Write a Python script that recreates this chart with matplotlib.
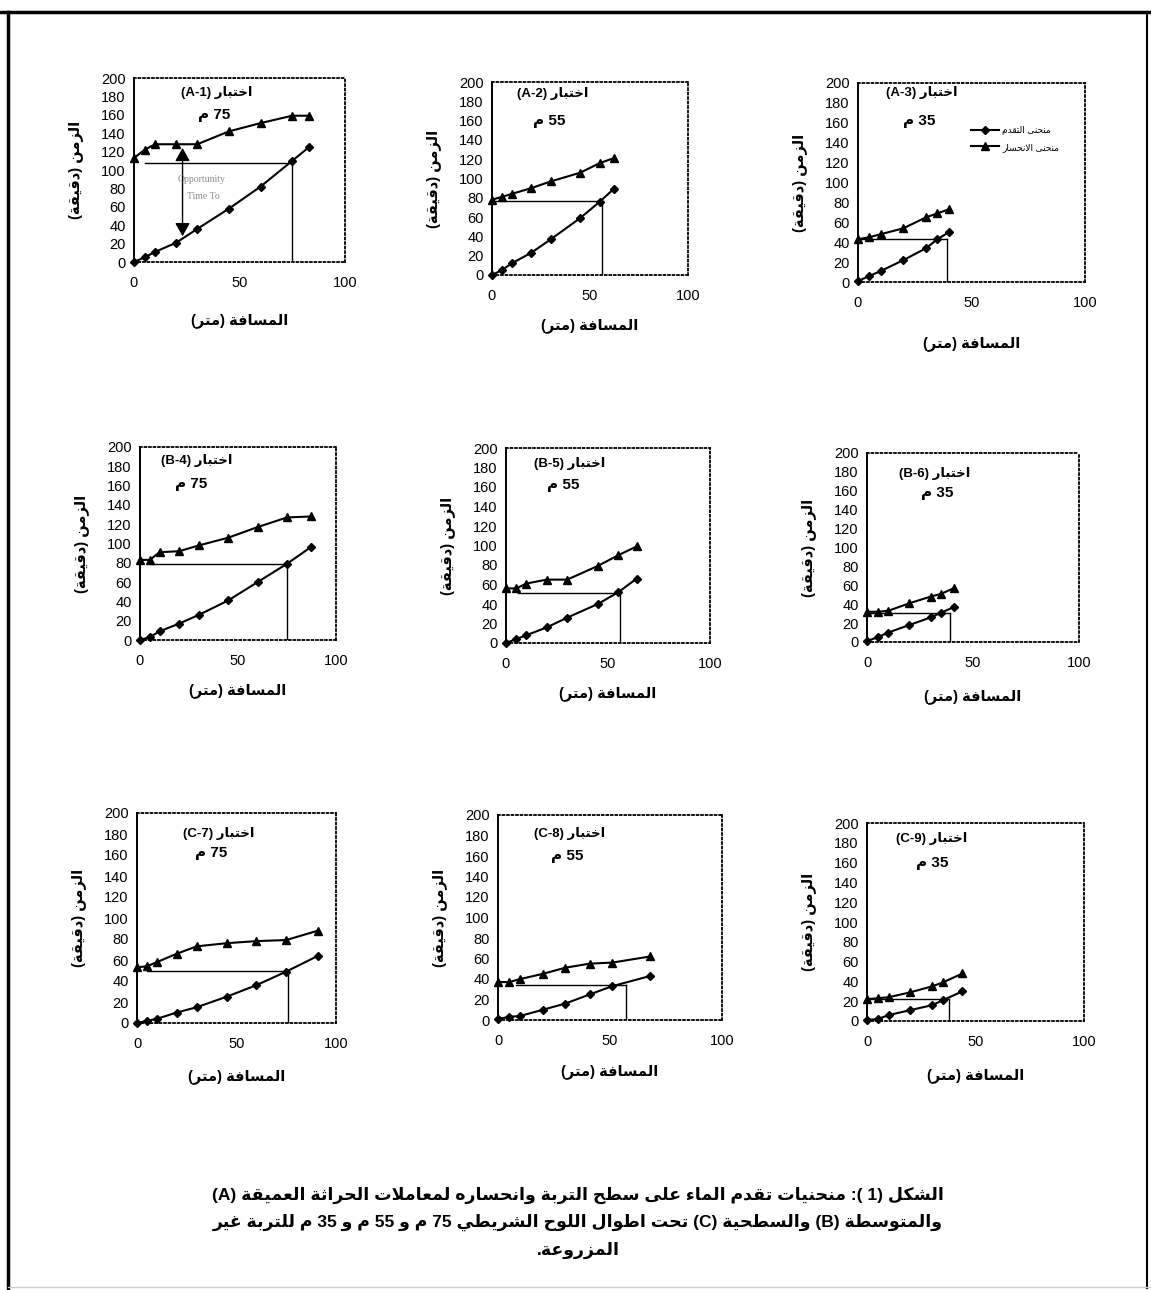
import re
import matplotlib
matplotlib.use("Agg")
import matplotlib.pyplot as plt
from matplotlib.lines import Line2D

# ---- data: advance / recession times (min) against distance (m) ----
panel_ids = ["A-1", "A-2", "A-3", "B-4", "B-5", "B-6", "C-7", "C-8", "C-9"]
strip_len = [75, 55, 35, 75, 55, 35, 75, 55, 35]

dist = [
    [0, 5, 10, 20, 30, 45, 60, 75, 83],
    [0, 5, 10, 20, 30, 45, 55, 62],
    [0, 5, 10, 20, 30, 35, 40],
    [0, 5, 10, 20, 30, 45, 60, 75, 87],
    [0, 5, 10, 20, 30, 45, 55, 64],
    [0, 5, 10, 20, 30, 35, 41],
    [0, 5, 10, 20, 30, 45, 60, 75, 91],
    [0, 5, 10, 20, 30, 41, 51, 68],
    [0, 5, 10, 20, 30, 35, 44],
]
advance = [
    [0, 5, 11, 21, 36, 58, 82, 110, 125],
    [0, 5, 12, 23, 37, 59, 76, 89],
    [1, 6, 11, 22, 34, 43, 50],
    [0, 3, 9, 17, 26, 41, 60, 79, 96],
    [0, 4, 8, 16, 26, 40, 52, 66],
    [1, 5, 10, 18, 26, 31, 37],
    [0, 2, 4, 10, 15, 25, 36, 49, 64],
    [1, 3, 4, 10, 16, 25, 33, 43],
    [1, 2, 6, 11, 16, 21, 30],
]
recession = [
    [113, 122, 128, 128, 128, 142, 151, 159, 159],
    [78, 81, 84, 90, 97, 106, 116, 121],
    [43, 45, 48, 54, 65, 69, 73],
    [83, 83, 91, 92, 98, 106, 117, 127, 128],
    [56, 56, 61, 65, 65, 79, 90, 99],
    [32, 32, 33, 41, 48, 51, 57],
    [53, 54, 58, 66, 73, 76, 78, 79, 88],
    [37, 37, 40, 45, 51, 55, 56, 62],
    [22, 23, 24, 29, 35, 39, 48],
]
# guide lines: advance time reached at the end of the strip
guide_time = [108, 77, 43, 79, 51, 31, 50, 34, 22]
guide_x = [75, 56, 39, 75, 56, 39, 76, 57, 38]
guide_start = [5, 0, 0, 5, 6, 0, 5, 8, 0]

# opportunity time arrow on the first panel
opp_x = 23
opp_top, opp_bottom = 127, 25

yticks = list(range(0, 201, 20))
xticks = [0, 50, 100]

# ---- minimal arabic shaping + visual reordering ----
AR_FORMS = {
    "ء": (0xFE80,), "آ": (0xFE81, 0xFE82), "أ": (0xFE83, 0xFE84), "ؤ": (0xFE85, 0xFE86),
    "إ": (0xFE87, 0xFE88), "ا": (0xFE8D, 0xFE8E), "ة": (0xFE93, 0xFE94), "د": (0xFEA9, 0xFEAA),
    "ذ": (0xFEAB, 0xFEAC), "ر": (0xFEAD, 0xFEAE), "ز": (0xFEAF, 0xFEB0), "و": (0xFEED, 0xFEEE),
    "ى": (0xFEEF, 0xFEF0),
}
DUAL = {"ئ": 0xFE89, "ب": 0xFE8F, "ت": 0xFE95, "ث": 0xFE99, "ج": 0xFE9D, "ح": 0xFEA1,
        "خ": 0xFEA5, "س": 0xFEB1, "ش": 0xFEB5, "ص": 0xFEB9, "ض": 0xFEBD, "ط": 0xFEC1,
        "ظ": 0xFEC5, "ع": 0xFEC9, "غ": 0xFECD, "ف": 0xFED1, "ق": 0xFED5, "ك": 0xFED9,
        "ل": 0xFEDD, "م": 0xFEE1, "ن": 0xFEE5, "ه": 0xFEE9, "ي": 0xFEF1}
for ch, base in DUAL.items():
    AR_FORMS[ch] = tuple(base + k for k in range(4))
LAM_ALEF = {"ا": 0xFEFB, "آ": 0xFEF5, "أ": 0xFEF7, "إ": 0xFEF9}


def shape(text):
    res = []
    i = 0
    while i < len(text):
        c = text[i]
        if c not in AR_FORMS:
            res.append(c)
            i += 1
            continue
        prev = text[i - 1] if i > 0 else ""
        nxt = text[i + 1] if i + 1 < len(text) else ""
        link_prev = len(AR_FORMS.get(prev, ())) == 4 and len(AR_FORMS[c]) > 1
        if c == "ل" and nxt in LAM_ALEF:
            res.append(chr(LAM_ALEF[nxt] + (1 if link_prev else 0)))
            i += 2
            continue
        link_next = len(AR_FORMS[c]) == 4 and len(AR_FORMS.get(nxt, ())) > 1
        if link_prev and link_next:
            k = 3
        elif link_prev:
            k = 1
        elif link_next:
            k = 2
        else:
            k = 0
        res.append(chr(AR_FORMS[c][k]))
        i += 1
    return "".join(res)


MIRROR = str.maketrans("()", ")(")


def rtl(text):
    parts = re.split(r"([A-Za-z0-9]+(?:[-.][A-Za-z0-9]+)*)", shape(text))
    vis = [p if k % 2 else p[::-1].translate(MIRROR) for k, p in enumerate(parts)]
    return "".join(reversed(vis))


AR_FONT = ["Liberation Sans", "DejaVu Sans"]

# axes boxes in pixels: left, top, right, bottom
boxes = [
    (134, 78, 345, 262), (492, 82, 688, 275), (858, 83, 1085, 282),
    (140, 447, 336, 640), (506, 448, 710, 643), (867, 453, 1079, 642),
    (137, 813, 336, 1023), (498, 815, 722, 1020), (867, 823, 1084, 1021),
]
title_pos = [(0.39, 0.92), (0.31, 0.94), (0.28, 0.95), (0.29, 0.93), (0.31, 0.92),
             (0.32, 0.89), (0.41, 0.90), (0.32, 0.91), (0.30, 0.92)]
sub_pos = [(0.38, 0.80), (0.29, 0.80), (0.27, 0.81), (0.26, 0.81), (0.28, 0.81),
           (0.33, 0.79), (0.37, 0.81), (0.31, 0.80), (0.30, 0.80)]
xlab_pad = [17, 11, 19, 11, 11, 14, 13, 12, 14]

W, H = 1151, 1290
fig = plt.figure(figsize=(W / 100, H / 100), dpi=100)
fig.patch.set_facecolor("white")

for i, pid in enumerate(panel_ids):
    l, t, r, b = boxes[i]
    ax = fig.add_axes([l / W, 1 - b / H, (r - l) / W, (b - t) / H])
    ax.set_xlim(0, 100)
    ax.set_ylim(0, 200)
    ax.set_xticks(xticks)
    ax.set_yticks(yticks)
    ax.tick_params(length=0, labelsize=10.5)
    ax.tick_params(axis="x", pad=10)
    ax.tick_params(axis="y", pad=6)
    for lab in ax.get_xticklabels() + ax.get_yticklabels():
        lab.set_fontfamily("Liberation Sans")
    for side in ["top", "right", "bottom"]:
        ax.spines[side].set_linestyle((0, (1, 1.5)))
        ax.spines[side].set_linewidth(1.3)
    ax.spines["left"].set_linewidth(1.4)

    # guide lines from the recession start to the strip end
    ax.plot([guide_start[i], guide_x[i]], [guide_time[i], guide_time[i]], color="black", lw=1.0)
    ax.plot([guide_x[i], guide_x[i]], [0, guide_time[i]], color="black", lw=1.0)

    ax.plot(dist[i], advance[i], color="black", lw=1.5, marker="D", ms=4, clip_on=False,
            label=rtl("منحنى التقدم"))
    ax.plot(dist[i], recession[i], color="black", lw=1.5, marker="^", ms=6, clip_on=False,
            label=rtl("منحنى الانحسار"))

    ax.text(*title_pos[i], rtl("اختبار (" + pid + ")"), transform=ax.transAxes,
            ha="center", va="center", fontsize=9.5, fontweight="bold", family=AR_FONT)
    ax.text(*sub_pos[i], rtl(str(strip_len[i]) + " م"), transform=ax.transAxes,
            ha="center", va="center", fontsize=11, fontweight="bold", family=AR_FONT)

    ax.set_xlabel(rtl("المسافة (متر)"), fontsize=10.5, fontweight="bold",
                  family=AR_FONT, labelpad=xlab_pad[i])
    ax.set_ylabel(rtl("الزمن (دقيقة)"), fontsize=10.5, fontweight="bold",
                  family=AR_FONT, labelpad=13)

    if i == 0:
        ax.annotate("", xy=(opp_x, opp_bottom), xytext=(opp_x, opp_top),
                    arrowprops=dict(arrowstyle="<|-|>,head_length=0.8,head_width=0.45",
                                    color="black", lw=1.0))
        ax.text(32, 90, "Opportunity", fontsize=7, color="#8a8a8a",
                family="Liberation Serif", ha="center", va="center")
        ax.text(33, 71, "Time To", fontsize=7, color="#8a8a8a",
                family="Liberation Serif", ha="center", va="center")
    if i == 2:
        ax.legend(loc="upper left", bbox_to_anchor=(0.48, 0.80), frameon=False,
                  prop={"family": AR_FONT, "size": 6.5}, handlelength=3.2,
                  labelspacing=0.8, handletextpad=0.3, borderaxespad=0)

# caption
caption = [
    "الشكل (1 ): منحنيات تقدم الماء على سطح التربة وانحساره لمعاملات الحراثة العميقة (A)",
    "والمتوسطة (B) والسطحية (C) تحت اطوال اللوح الشريطي 75 م و 55 م و 35 م للتربة غير",
    "المزروعة.",
]
for k, line in enumerate(caption):
    fig.text(578 / W, 1 - (1195 + 27.5 * k) / H, rtl(line), ha="center", va="center",
             fontsize=12.5, fontweight="bold", family=AR_FONT)

# page frame
fig.add_artist(Line2D([8 / W, 8 / W], [0, 1 - 12 / H], color="black", lw=2.5))
fig.add_artist(Line2D([0, 1], [1 - 12 / H, 1 - 12 / H], color="black", lw=2.5))
fig.add_artist(Line2D([1147 / W, 1147 / W], [2 / H, 1 - 12 / H], color="black", lw=1.5))
fig.add_artist(Line2D([8 / W, 1], [3 / H, 3 / H], color="#cccccc", lw=1.0))

fig.savefig("out.png", dpi=100)
